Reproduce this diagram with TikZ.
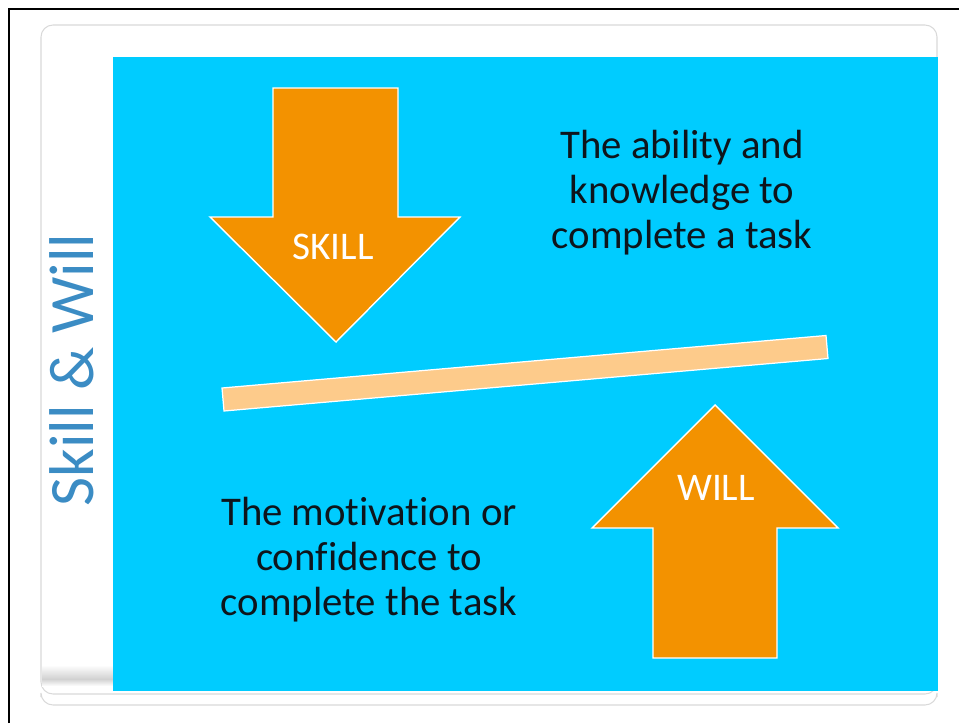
\documentclass[tikz,border=0pt]{standalone}
\usepackage{fontspec}
\setmainfont[Ligatures=NoCommon]{Carlito}
\usepackage{tikz}
\definecolor{swBlue}{HTML}{00CCFF}
\definecolor{swOrange}{HTML}{F39200}
\definecolor{swPeach}{HTML}{FDCB8B}
\definecolor{swTitle}{HTML}{3B8CC4}
\definecolor{swInk}{HTML}{0E151C}
\definecolor{swEdge}{HTML}{D9D9D9}

\begin{document}
\begin{tikzpicture}[
  x=0.02cm, y=-0.02cm,
  bigarrow/.style={fill=swOrange, draw=white, line width=0.8pt, line join=miter},
  plank/.style={fill=swPeach, draw=white, line width=0.7pt},
  arrowlabel/.style={font=\fontsize{22.3}{26}\selectfont, text=white, anchor=base},
  note/.style={font=\fontsize{23.2}{25.6}\selectfont, text=swInk, align=center}
]
  \useasboundingbox (0,0) rectangle (959,723);

  % slide frame and card
  \draw[line width=1.4pt] (9,723) -- (9,9) -- (959,9);
  \draw[swEdge, line width=0.6pt, rounded corners=0.24cm] (41,25) rectangle (937,694);
  \draw[swEdge, line width=0.6pt, rounded corners=0.24cm] (41,697) -- (41,705) -- (937,705) -- (937,697);
  \shade[top color=white, bottom color=black!18] (42,665) rectangle (113,679);
  \shade[top color=black!18, bottom color=white] (42,679) rectangle (113,686);

  % blue panel
  \fill[swBlue] (113,57) rectangle (938,691);

  % Title along the left side
  \node[rotate=90, anchor=base, text=swTitle, font=\fontsize{36}{40}\selectfont] (title) at (93,370) {Skill \& Will};

  % Down arrow: skill
  \filldraw[bigarrow] (273,88) -- (398,88) -- (398,217) -- (460,217) -- (336,342) -- (210,217) -- (273,217) -- cycle;
  \node[arrowlabel] (skill) at (333,259) {SKILL};

  % Up arrow: will
  \filldraw[bigarrow] (653,658) -- (777,658) -- (777,528) -- (838,528) -- (715,405) -- (592,528) -- (653,528) -- cycle;
  \node[arrowlabel] (will) at (716,500) {WILL};

  % tilted balance plank
  \filldraw[plank] (222,388) -- (826,335.5) -- (828,358.5) -- (224,411) -- cycle;

  % descriptions
  \node[note] (skilldesc) at (682,192.5) {The ability and\\knowledge to\\complete a task};
  \node[note] (willdesc) at (369,559.5) {The motivation or\\confidence to\\complete the task};
\end{tikzpicture}
\end{document}
